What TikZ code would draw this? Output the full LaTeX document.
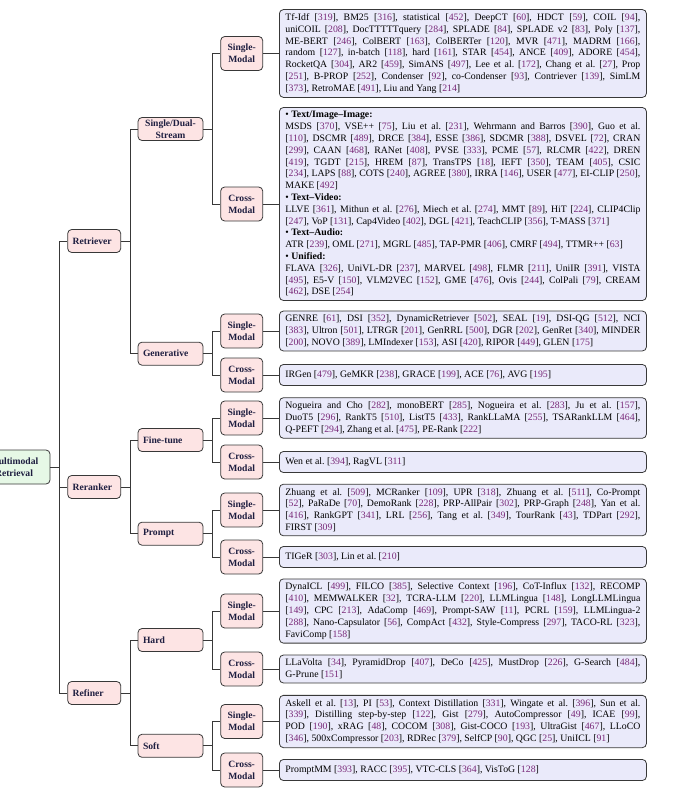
\documentclass[tikz,border=0pt]{standalone}
\usepackage{fontspec}
\setmainfont{Liberation Serif}
\definecolor{leaffill}{HTML}{EAEAFA}
\definecolor{catfill}{HTML}{FDE4E4}
\definecolor{rootfill}{HTML}{E6F8E6}
\definecolor{citecol}{RGB}{120,40,120}
\definecolor{labelcol}{HTML}{1E1E40}
\definecolor{linecol}{HTML}{383838}
\newcommand{\cit}[1]{[\textcolor{citecol}{#1}]}
\newcommand{\leaffont}{\fontsize{9.8}{11.8}\selectfont\frenchspacing\tolerance=9999\relax}
\tikzset{
  catbox/.style={draw=linecol, fill=catfill, rounded corners=4pt, line width=0.8pt,
    font=\fontsize{9.6}{12}\selectfont\bfseries, text=labelcol, inner xsep=5pt, inner ysep=2pt},
  lvlone/.style={catbox, text width=43pt, align=left, minimum height=23pt},
  lvltwo/.style={catbox, text width=55pt, align=left, minimum height=23pt},
  modalbox/.style={catbox, text width=32pt, align=center, minimum height=34pt},
  rootbox/.style={catbox, fill=rootfill, text width=62pt, align=center, minimum height=34pt},
  leafbox/.style={draw=linecol, fill=leaffill, rounded corners=4pt, line width=0.8pt, anchor=west,
    text width=355pt, inner xsep=6pt, inner ysep=4pt, align=justify, minimum height=21pt,
    font=\leaffont},
  edge/.style={draw=linecol, line width=0.8pt}
}
\begin{document}
\begin{tikzpicture}[x=1pt, y=-1pt]
  \clip (0,0) rectangle (680,797);
  % root and first level
  \node[rootbox] (mmr) at (14,467) {Multimodal\\Retrieval};
  \node[lvlone] (ret) at (94.2,241) {Retriever};
  \node[lvlone] (rer) at (94.2,487) {Reranker};
  \node[lvlone] (ref) at (94.2,693) {Refiner};
  % second level
  \node[lvltwo, align=center] (sds) at (170.5,129) {Single/Dual-\\Stream};
  \node[lvltwo] (gen) at (170.5,353.7) {Generative};
  \node[lvltwo] (fine) at (170.5,440) {Fine-tune};
  \node[lvltwo] (prm) at (170.5,533.7) {Prompt};
  \node[lvltwo] (hard) at (170.5,640) {Hard};
  \node[lvltwo] (soft) at (170.5,745.8) {Soft};
  % modality level
  \foreach \i/\y/\t in {1/53.5/Single, 2/204/Cross, 3/331/Single, 4/375/Cross,
    5/418/Single, 6/462/Cross, 7/510/Single, 8/557/Cross,
    9/611/Single, 10/669/Cross, 11/721.5/Single, 12/770/Cross}
    \node[modalbox] (m\i) at (241.7,\y) {\t-\\Modal};
  % leaves
  \node[leafbox] (lf1) at (279,53.5) {Tf-Idf \cit{319}, BM25 \cit{316}, statistical \cit{452}, DeepCT \cit{60}, HDCT \cit{59}, COIL \cit{94},\linebreak
    uniCOIL \cit{208}, DocTTTTTquery \cit{284}, SPLADE \cit{84}, SPLADE v2 \cit{83}, Poly \cit{137},\linebreak
    ME-BERT \cit{246}, ColBERT \cit{163}, ColBERTer \cit{120}, MVR \cit{471}, MADRM \cit{166},\linebreak
    random \cit{127}, in-batch \cit{118}, hard \cit{161}, STAR \cit{454}, ANCE \cit{409}, ADORE \cit{454},\linebreak
    RocketQA \cit{304}, AR2 \cit{459}, SimANS \cit{497}, Lee et al. \cit{172}, Chang et al. \cit{27}, Prop\linebreak
    \cit{251}, B-PROP \cit{252}, Condenser \cit{92}, co-Condenser \cit{93}, Contriever \cit{139}, SimLM\linebreak
    \cit{373}, RetroMAE \cit{491}, Liu and Yang \cit{214}};
  \node[leafbox] (lf2) at (279,204) {\textbullet\ \textbf{Text/Image–Image:}\\
    MSDS \cit{370}, VSE++ \cit{75}, Liu et al. \cit{231}, Wehrmann and Barros \cit{390}, Guo et al.\linebreak
    \cit{110}, DSCMR \cit{489}, DRCE \cit{384}, ESSE \cit{386}, SDCMR \cit{388}, DSVEL \cit{72}, CRAN\linebreak
    \cit{299}, CAAN \cit{468}, RANet \cit{408}, PVSE \cit{333}, PCME \cit{57}, RLCMR \cit{422}, DREN\linebreak
    \cit{419}, TGDT \cit{215}, HREM \cit{87}, TransTPS \cit{18}, IEFT \cit{350}, TEAM \cit{405}, CSIC\linebreak
    \cit{234}, LAPS \cit{88}, COTS \cit{240}, AGREE \cit{380}, IRRA \cit{146}, USER \cit{477}, EI-CLIP \cit{250},\linebreak
    MAKE \cit{492}\\
    \textbullet\ \textbf{Text–Video:}\\
    LLVE \cit{361}, Mithun et al. \cit{276}, Miech et al. \cit{274}, MMT \cit{89}, HiT \cit{224}, CLIP4Clip\linebreak
    \cit{247}, VoP \cit{131}, Cap4Video \cit{402}, DGL \cit{421}, TeachCLIP \cit{356}, T-MASS \cit{371}\\
    \textbullet\ \textbf{Text–Audio:}\\
    ATR \cit{239}, OML \cit{271}, MGRL \cit{485}, TAP-PMR \cit{406}, CMRF \cit{494}, TTMR++ \cit{63}\\
    \textbullet\ \textbf{Unified:}\\
    FLAVA \cit{326}, UniVL-DR \cit{237}, MARVEL \cit{498}, FLMR \cit{211}, UniIR \cit{391}, VISTA\linebreak
    \cit{495}, E5-V \cit{150}, VLM2VEC \cit{152}, GME \cit{476}, Ovis \cit{244}, ColPali \cit{79}, CREAM\linebreak
    \cit{462}, DSE \cit{254}};
  \node[leafbox] (lf3) at (279,331) {GENRE \cit{61}, DSI \cit{352}, DynamicRetriever \cit{502}, SEAL \cit{19}, DSI-QG \cit{512}, NCI\linebreak
    \cit{383}, Ultron \cit{501}, LTRGR \cit{201}, GenRRL \cit{500}, DGR \cit{202}, GenRet \cit{340}, MINDER\linebreak
    \cit{200}, NOVO \cit{389}, LMIndexer \cit{153}, ASI \cit{420}, RIPOR \cit{449}, GLEN \cit{175}};
  \node[leafbox] (lf4) at (279,375) {IRGen \cit{479}, GeMKR \cit{238}, GRACE \cit{199}, ACE \cit{76}, AVG \cit{195}};
  \node[leafbox] (lf5) at (279,418) {Nogueira and Cho \cit{282}, monoBERT \cit{285}, Nogueira et al. \cit{283}, Ju et al. \cit{157},\linebreak
    DuoT5 \cit{296}, RankT5 \cit{510}, ListT5 \cit{433}, RankLLaMA \cit{255}, TSARankLLM \cit{464},\linebreak
    Q-PEFT \cit{294}, Zhang et al. \cit{475}, PE-Rank \cit{222}};
  \node[leafbox] (lf6) at (279,462) {Wen et al. \cit{394}, RagVL \cit{311}};
  \node[leafbox] (lf7) at (279,510) {Zhuang et al. \cit{509}, MCRanker \cit{109}, UPR \cit{318}, Zhuang et al. \cit{511}, Co-Prompt\linebreak
    \cit{52}, PaRaDe \cit{70}, DemoRank \cit{228}, PRP-AllPair \cit{302}, PRP-Graph \cit{248}, Yan et al.\linebreak
    \cit{416}, RankGPT \cit{341}, LRL \cit{256}, Tang et al. \cit{349}, TourRank \cit{43}, TDPart \cit{292},\linebreak
    FIRST \cit{309}};
  \node[leafbox] (lf8) at (279,557) {TIGeR \cit{303}, Lin et al. \cit{210}};
  \node[leafbox] (lf9) at (279,611) {DynaICL \cit{499}, FILCO \cit{385}, Selective Context \cit{196}, CoT-Influx \cit{132}, RECOMP\linebreak
    \cit{410}, MEMWALKER \cit{32}, TCRA-LLM \cit{220}, LLMLingua \cit{148}, LongLLMLingua\linebreak
    \cit{149}, CPC \cit{213}, AdaComp \cit{469}, Prompt-SAW \cit{11}, PCRL \cit{159}, LLMLingua-2\linebreak
    \cit{288}, Nano-Capsulator \cit{56}, CompAct \cit{432}, Style-Compress \cit{297}, TACO-RL \cit{323},\linebreak
    FaviComp \cit{158}};
  \node[leafbox] (lf10) at (279,669) {LLaVolta \cit{34}, PyramidDrop \cit{407}, DeCo \cit{425}, MustDrop \cit{226}, G-Search \cit{484},\linebreak
    G-Prune \cit{151}};
  \node[leafbox] (lf11) at (279,721.5) {Askell et al. \cit{13}, PI \cit{53}, Context Distillation \cit{331}, Wingate et al. \cit{396}, Sun et al.\linebreak
    \cit{339}, Distilling step-by-step \cit{122}, Gist \cit{279}, AutoCompressor \cit{49}, ICAE \cit{99},\linebreak
    POD \cit{190}, xRAG \cit{48}, COCOM \cit{308}, Gist-COCO \cit{193}, UltraGist \cit{467}, LLoCO\linebreak
    \cit{346}, 500xCompressor \cit{203}, RDRec \cit{379}, SelfCP \cit{90}, QGC \cit{25}, UniICL \cit{91}};
  \node[leafbox] (lf12) at (279,770) {PromptMM \cit{393}, RACC \cit{395}, VTC-CLS \cit{364}, VisToG \cit{128}};
  % connectors
  \foreach \p/\c in {mmr/ret, mmr/rer, mmr/ref, ret/sds, ret/gen, rer/fine, rer/prm,
    ref/hard, ref/soft, sds/m1, sds/m2, gen/m3, gen/m4, fine/m5, fine/m6,
    prm/m7, prm/m8, hard/m9, hard/m10, soft/m11, soft/m12}
    \draw[edge] (\p.east) -- ++(9pt,0) |- (\c.west);
  \foreach \i in {1,...,12}
    \draw[edge] (m\i.east) -- (lf\i.west);
\end{tikzpicture}
\end{document}
